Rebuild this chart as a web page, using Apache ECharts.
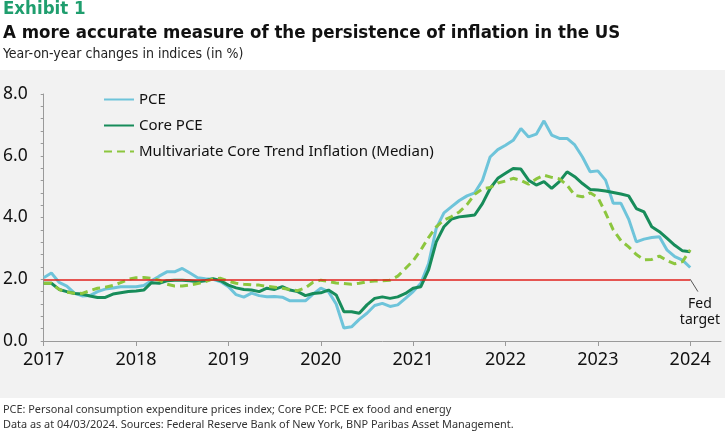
<!DOCTYPE html>
<html>
<head>
<meta charset="utf-8">
<script src="https://cdn.jsdelivr.net/npm/echarts@6/dist/echarts.min.js"></script>
<style>
html, body { margin: 0; padding: 0; background: #fff; }
#chart { width: 725px; height: 433px; }
</style>
</head>
<body>
<div id="chart"></div>
<script>
// monthly categories Jan 2017 .. May 2024 (last few are empty room at the right)
const years = [2017, 2018, 2019, 2020, 2021, 2022, 2023, 2024];
const months = [];
years.forEach(function (y) {
	for (let m = 1; m <= 12; m++) {
		if (y === 2024 && m > 5) break;
		months.push(y + '-' + (m < 10 ? '0' + m : m));
	}
});

// PCE, y/y %
const pce = [
	2.05, 2.2, 1.9, 1.78, 1.55, 1.46, 1.47, 1.6, 1.68, 1.72, 1.76, 1.76,
	1.76, 1.8, 1.95, 2.1, 2.24, 2.24, 2.35, 2.2, 2.05, 2.02, 2.0, 1.92,
	1.76, 1.5, 1.42, 1.55, 1.47, 1.43, 1.44, 1.42, 1.3, 1.3, 1.3, 1.52,
	1.71, 1.6, 1.2, 0.42, 0.46, 0.7, 0.9, 1.15, 1.22, 1.12, 1.17, 1.38,
	1.6, 1.87, 2.5, 3.65, 4.15, 4.35, 4.55, 4.7, 4.8, 5.2, 5.96, 6.2,
	6.34, 6.5, 6.88, 6.61, 6.7, 7.13, 6.67, 6.56, 6.56, 6.35, 5.96, 5.48,
	5.51, 5.21, 4.46, 4.46, 3.95, 3.21, 3.3, 3.35, 3.38, 2.94, 2.73, 2.62,
	2.38
];
// Core PCE
const corePce = [
	1.87, 1.87, 1.67, 1.6, 1.54, 1.52, 1.46, 1.41, 1.41, 1.52, 1.56, 1.6,
	1.62, 1.65, 1.89, 1.87, 1.95, 1.97, 1.97, 1.95, 1.92, 1.95, 2.02, 1.95,
	1.81, 1.72, 1.67, 1.65, 1.6, 1.71, 1.67, 1.76, 1.65, 1.6, 1.47, 1.54,
	1.56, 1.65, 1.49, 0.95, 0.95, 0.9, 1.17, 1.38, 1.43, 1.38, 1.43, 1.54,
	1.71, 1.76, 2.3, 3.21, 3.7, 3.95, 4.02, 4.05, 4.08, 4.45, 4.94, 5.27,
	5.43, 5.59, 5.57, 5.21, 5.05, 5.16, 4.94, 5.16, 5.48, 5.32, 5.1, 4.91,
	4.89, 4.86, 4.81, 4.76, 4.7, 4.29, 4.18, 3.7, 3.54, 3.32, 3.1, 2.92,
	2.89
];
// Multivariate Core Trend Inflation (median)
const mctTrend = [
	1.87, 1.87, 1.67, 1.58, 1.55, 1.54, 1.63, 1.71, 1.74, 1.8, 1.89, 2.0,
	2.05, 2.06, 2.03, 1.97, 1.84, 1.78, 1.78, 1.81, 1.86, 1.92, 2.01, 2.03,
	1.94, 1.87, 1.84, 1.82, 1.81, 1.77, 1.74, 1.71, 1.67, 1.63, 1.72, 1.9,
	1.97, 1.93, 1.88, 1.86, 1.84, 1.87, 1.92, 1.94, 1.95, 1.97, 2.1, 2.35,
	2.6, 2.95, 3.35, 3.7, 3.92, 4.03, 4.18, 4.42, 4.75, 4.93, 4.97, 5.12,
	5.18, 5.27, 5.2, 5.08, 5.25, 5.37, 5.3, 5.25, 5.05, 4.72, 4.67, 4.8,
	4.65, 4.15, 3.6, 3.25, 3.05, 2.8, 2.63, 2.64, 2.75, 2.6, 2.5, 2.57,
	2.95
];
const fedTarget = 2.0;

const condFont = "'DejaVu Sans Condensed', sans-serif";
const axisGrey = '#9a9a9a';

let myChart = echarts.init(document.getElementById('chart'));
myChart.setOption({
	animation: false,
	backgroundColor: '#fff',
	graphic: [{
		type: 'rect', z: -10,
		shape: { x: 0, y: 70, width: 725, height: 328 },
		style: { fill: '#f2f2f2' }
	}],
	title: [
		{ text: 'Exhibit 1', left: 3, top: 0, padding: 0,
			textStyle: { fontFamily: condFont, fontWeight: 'bold', fontSize: 18.5, color: '#1f9e6e' } },
		{ text: 'A more accurate measure of the persistence of inflation in the US', left: 3, top: 24, padding: 0,
			textStyle: { fontFamily: condFont, fontWeight: 'bold', fontSize: 18.5, color: '#111' } },
		{ text: 'Year-on-year changes in indices (in %)', left: 3, top: 47, padding: 0,
			textStyle: { fontFamily: condFont, fontWeight: 'normal', fontSize: 14, color: '#222' } },
		{ text: 'PCE: Personal consumption expenditure prices index; Core PCE: PCE ex food and energy\nData as at 04/03/2024. Sources: Federal Reserve Bank of New York, BNP Paribas Asset Management.',
			left: 3, top: 402, padding: 0,
			textStyle: { fontFamily: 'Noto Sans', fontWeight: 'normal', fontSize: 10.9, lineHeight: 15, color: '#333' } }
	],
	legend: {
		orient: 'vertical', left: 103, top: 92, padding: 0,
		itemWidth: 30, itemHeight: 14, itemGap: 11,
		itemStyle: { opacity: 0 },
		data: ['PCE', 'Core PCE', 'Multivariate Core Trend Inflation (Median)'],
		textStyle: { fontFamily: 'Noto Sans', fontSize: 15, color: '#111' }
	},
	grid: { left: 42, right: 4, top: 94, bottom: 92 },
	xAxis: {
		type: 'category', data: months, boundaryGap: false,
		axisLine: { lineStyle: { color: axisGrey } },
		axisTick: { interval: function (i) { return i % 12 === 0; }, length: 5, lineStyle: { color: axisGrey } },
		axisLabel: {
			interval: function (i) { return i % 12 === 0; },
			formatter: function (v) { return v.slice(0, 4); },
			fontFamily: 'Noto Sans', fontSize: 18, color: '#111', margin: 10
		}
	},
	yAxis: {
		type: 'value', min: 0, max: 8, interval: 2,
		axisLine: { show: true, lineStyle: { color: axisGrey } },
		axisTick: { show: true, length: 3, lineStyle: { color: axisGrey } },
		minorTick: { show: true, splitNumber: 5, length: 3, lineStyle: { color: axisGrey } },
		splitLine: { show: false },
		axisLabel: {
			formatter: function (v) { return v.toFixed(1); },
			fontFamily: 'Noto Sans', fontSize: 17.5, color: '#111', margin: 16
		}
	},
	series: [
		{
			name: 'Fed target', type: 'line', data: [], silent: true,
			markLine: {
				silent: true, symbol: 'none', label: { show: false },
				data: [
					[{ coord: [0, fedTarget], lineStyle: { color: '#e0201b', width: 1.5, type: 'solid' } }, { coord: [84, fedTarget] }],
					[{ coord: [84, fedTarget], lineStyle: { color: '#555', width: 1, type: 'solid' } }, { coord: [85, 1.6] }]
				]
			},
			markPoint: {
				silent: true, symbol: 'circle', symbolSize: 0,
				data: [{ coord: [85, 1.6] }],
				label: {
					show: true, position: 'bottom', distance: 4, offset: [2, 0],
					formatter: 'Fed\ntarget', align: 'center',
					fontFamily: 'Noto Sans', fontSize: 14, lineHeight: 16, color: '#111'
				}
			}
		},
		{
			name: 'PCE', type: 'line', data: pce, symbol: 'none',
			itemStyle: { color: '#6ec4da' },
			lineStyle: { color: '#6ec4da', width: 3 }
		},
		{
			name: 'Core PCE', type: 'line', data: corePce, symbol: 'none',
			itemStyle: { color: '#178c5a' },
			lineStyle: { color: '#178c5a', width: 3 }
		},
		{
			name: 'Multivariate Core Trend Inflation (Median)', type: 'line', data: mctTrend, symbol: 'none',
			itemStyle: { color: '#8cc63e' },
			lineStyle: { color: '#8cc63e', width: 3, type: [8, 5] }
		}
	]
});
</script>
</body>
</html>
